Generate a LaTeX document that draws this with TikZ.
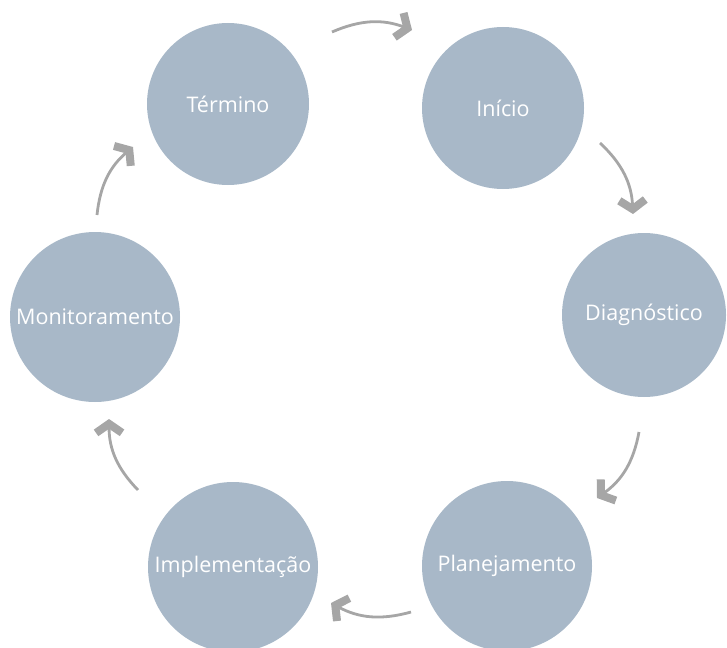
\documentclass[tikz,border=0pt]{standalone}
\usepackage{fontspec}
\setmainfont{Open Sans}
\usetikzlibrary{arrows.meta}
\definecolor{circfill}{RGB}{168,184,200}
\definecolor{arrgray}{RGB}{166,166,166}
\begin{document}
\begin{tikzpicture}[x=1pt,y=1pt,
  stage/.style={circle,fill=circfill,draw=none,text=white,inner sep=0pt,
    minimum size=#1,font=\fontsize{21.5}{24}\selectfont},
  flow/.style={draw=arrgray,line width=2.8pt,
    -{Straight Barb[length=9pt,width=26pt,line width=8pt]}}]
\useasboundingbox (0,0) rectangle (727,-647);
\node[stage=162] (ter) at (228,-104) {Término};
\node[stage=162] (ini) at (503,-108) {Início};
\node[stage=164] (dia) at (644,-315) {Diagnóstico};
\node[stage=170] (pla) at (507,-566) {Planejamento};
\node[stage=170] (imp) at (233,-567) {Implementação};
\node[stage=170] (mon) at (95,-317) {Monitoramento};
\coordinate (a1s) at (332,-32);  \coordinate (a1e) at (412,-30);
\coordinate (a2s) at (600,-143); \coordinate (a2e) at (633,-214);
\coordinate (a3s) at (639,-432); \coordinate (a3e) at (597,-498);
\coordinate (a4s) at (411,-612); \coordinate (a4e) at (331,-603);
\coordinate (a5s) at (138,-490); \coordinate (a5e) at (109,-419);
\coordinate (a6s) at (97,-215);  \coordinate (a6e) at (133,-147);
\draw[flow] (a1s) to[bend left=22] (a1e);
\draw[flow] (a2s) to[bend left=22] (a2e);
\draw[flow] (a3s) to[bend left=22] (a3e);
\draw[flow] (a4s) to[bend left=22] (a4e);
\draw[flow] (a5s) to[bend left=22] (a5e);
\draw[flow] (a6s) to[bend left=22] (a6e);
\end{tikzpicture}
\end{document}
